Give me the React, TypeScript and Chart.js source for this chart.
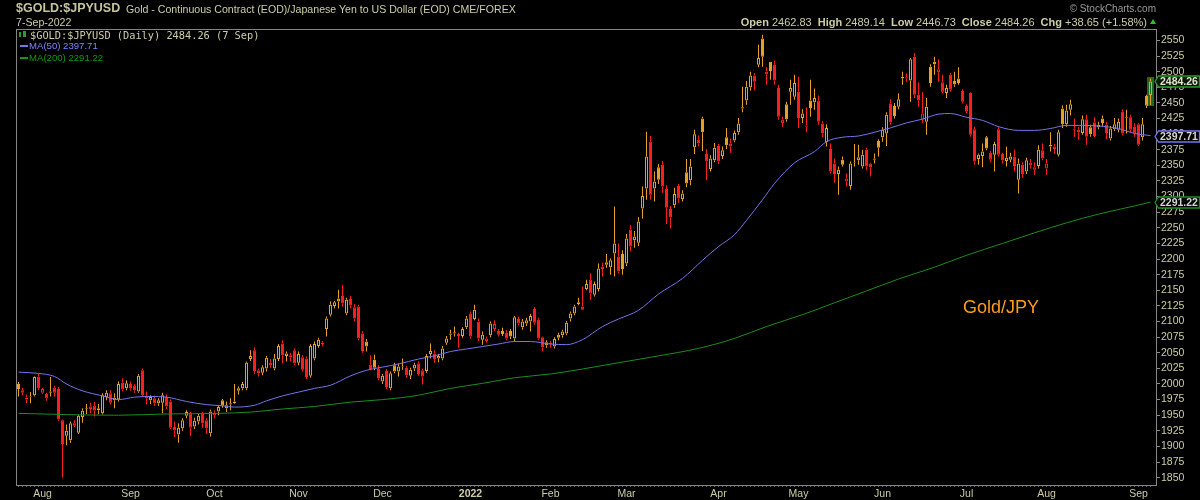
import React, { useEffect, useRef } from "react";
import { Chart, registerables } from "chart.js";

Chart.register(...registerables);

// ---------- DATA ----------
const OPEN: number[] = [
  2000, 1990, 1975, 1979, 1982, 2012, 1986, 1984, 1986, 1994,
  1992, 1942, 1917, 1910, 1937, 1922, 1947, 1960, 1964, 1965,
  1961, 1953, 1979, 1985, 1974, 1975, 2002, 1993, 2000, 1997,
  1988, 2022, 1981, 1974, 1977, 1969, 1970, 1979, 1972, 1931,
  1919, 1929, 1949, 1953, 1932, 1940, 1953, 1942, 1921, 1954,
  1956, 1974, 1961, 1969, 1969, 1989, 1993, 1993, 2040, 2054,
  2022, 2018, 2025, 2034, 2025, 2040, 2065, 2045, 2043, 2054,
  2034, 2043, 2041, 2013, 2041, 2061, 2066, 2088, 2111, 2125,
  2137, 2141, 2113, 2136, 2123, 2124, 2081, 2068, 2031, 2039,
  2024, 2004, 2021, 1993, 2030, 2020, 2028, 2026, 2013, 2025,
  2033, 2022, 2021, 2048, 2049, 2041, 2041, 2066, 2079, 2081,
  2080, 2077, 2091, 2113, 2104, 2100, 2071, 2069, 2078, 2088,
  2085, 2085, 2082, 2085, 2073, 2104, 2091, 2097, 2100, 2120,
  2103, 2075, 2062, 2064, 2060, 2079, 2078, 2081, 2105, 2113,
  2128, 2124, 2152, 2167, 2143, 2152, 2188, 2191, 2187, 2209,
  2204, 2208, 2193, 2247, 2230, 2226, 2281, 2313, 2388, 2313,
  2347, 2351, 2312, 2280, 2286, 2317, 2296, 2339, 2326, 2379,
  2391, 2425, 2368, 2344, 2358, 2381, 2365, 2395, 2385, 2390,
  2403, 2443, 2454, 2475, 2494, 2511, 2553, 2496, 2516, 2511,
  2474, 2418, 2448, 2468, 2460, 2468, 2426, 2412, 2454, 2451,
  2454, 2417, 2387, 2376, 2353, 2336, 2359, 2324, 2317, 2355,
  2358, 2348, 2375, 2353, 2359, 2389, 2395, 2401, 2449, 2445,
  2444, 2489, 2489, 2486, 2524, 2463, 2423, 2420, 2508, 2516,
  2499, 2483, 2466, 2495, 2485, 2489, 2469, 2445, 2466, 2408,
  2360, 2365, 2395, 2370, 2367, 2408, 2368, 2357, 2359, 2364,
  2327, 2351, 2340, 2350, 2343, 2349, 2374, 2345, 2383, 2380,
  2367, 2441, 2416, 2439, 2407, 2407, 2402, 2424, 2411, 2419,
  2411, 2425, 2415, 2393, 2408, 2407, 2436, 2427, 2427, 2412,
  2416, 2395, 2461, 2462.83,
];

const HIGH: number[] = [
  2003, 1994, 1983, 1987, 2012, 2016, 1994, 1986, 2011, 1997,
  1995, 1943, 1935, 1940, 1942, 1951, 1961, 1968, 1970, 1971,
  1968, 1985, 1990, 1990, 1985, 2004, 2009, 2006, 2004, 2000,
  2016, 2025, 1988, 1982, 1981, 1977, 1986, 1983, 1975, 1940,
  1937, 1945, 1958, 1955, 1946, 1952, 1955, 1945, 1959, 1958,
  1966, 1976, 1972, 1977, 2000, 1996, 2003, 2036, 2054, 2059,
  2025, 2030, 2045, 2040, 2048, 2064, 2070, 2052, 2050, 2057,
  2052, 2046, 2044, 2064, 2068, 2074, 2069, 2108, 2132, 2133,
  2151, 2159, 2138, 2141, 2128, 2127, 2085, 2072, 2046, 2047,
  2030, 2016, 2024, 2020, 2034, 2033, 2041, 2029, 2026, 2034,
  2036, 2025, 2048, 2065, 2054, 2048, 2061, 2077, 2087, 2092,
  2082, 2091, 2109, 2116, 2127, 2105, 2084, 2076, 2100, 2102,
  2088, 2090, 2086, 2088, 2109, 2108, 2104, 2106, 2112, 2123,
  2106, 2076, 2070, 2069, 2075, 2082, 2087, 2101, 2116, 2127,
  2138, 2156, 2167, 2177, 2164, 2193, 2194, 2208, 2201, 2284,
  2225, 2214, 2240, 2254, 2245, 2267, 2316, 2404, 2397, 2340,
  2352, 2357, 2318, 2285, 2314, 2320, 2310, 2360, 2360, 2407,
  2398, 2428, 2376, 2366, 2386, 2384, 2380, 2410, 2393, 2406,
  2426, 2476, 2485, 2500, 2498, 2543, 2559, 2507, 2516, 2518,
  2479, 2428, 2452, 2487, 2495, 2492, 2440, 2443, 2487, 2473,
  2462, 2421, 2416, 2385, 2361, 2348, 2364, 2337, 2356, 2384,
  2383, 2375, 2378, 2354, 2369, 2392, 2411, 2435, 2456, 2450,
  2465, 2500, 2497, 2522, 2530, 2483, 2468, 2458, 2512, 2524,
  2520, 2495, 2479, 2498, 2500, 2507, 2472, 2448, 2467, 2412,
  2369, 2385, 2397, 2373, 2388, 2411, 2370, 2380, 2370, 2375,
  2361, 2355, 2362, 2360, 2355, 2382, 2385, 2360, 2403, 2384,
  2407, 2446, 2447, 2455, 2425, 2412, 2430, 2431, 2415, 2427,
  2420, 2430, 2420, 2413, 2426, 2425, 2440, 2439, 2431, 2418,
  2418, 2426, 2463, 2489.14,
];

const LOW: number[] = [
  1980, 1982, 1969, 1969, 1980, 1990, 1984, 1973, 1980, 1980,
  1941, 1850, 1902, 1906, 1931, 1920, 1938, 1952, 1953, 1948,
  1952, 1951, 1974, 1967, 1961, 1972, 1988, 1990, 1989, 1986,
  1986, 1979, 1967, 1968, 1965, 1965, 1953, 1960, 1928, 1915,
  1906, 1925, 1945, 1917, 1928, 1935, 1930, 1920, 1916, 1945,
  1950, 1962, 1955, 1958, 1968, 1983, 1990, 1990, 2037, 2016,
  2012, 2014, 2020, 2026, 2022, 2037, 2033, 2036, 2036, 2030,
  2030, 2020, 2008, 2010, 2038, 2058, 2060, 2076, 2108, 2121,
  2121, 2124, 2110, 2121, 2100, 2070, 2050, 2052, 2022, 2022,
  2006, 2000, 1992, 1990, 2017, 2012, 2023, 2010, 2008, 2021,
  2013, 1999, 2018, 2041, 2034, 2035, 2038, 2063, 2071, 2076,
  2058, 2074, 2088, 2073, 2102, 2069, 2063, 2066, 2075, 2085,
  2076, 2077, 2070, 2072, 2068, 2094, 2087, 2093, 2084, 2095,
  2070, 2052, 2058, 2058, 2057, 2070, 2074, 2078, 2100, 2110,
  2126, 2118, 2150, 2135, 2140, 2148, 2172, 2186, 2175, 2172,
  2177, 2175, 2189, 2212, 2218, 2221, 2265, 2295, 2295, 2292,
  2320, 2306, 2256, 2249, 2282, 2290, 2292, 2315, 2318, 2368,
  2380, 2373, 2326, 2340, 2355, 2352, 2360, 2376, 2370, 2387,
  2399, 2435, 2447, 2470, 2470, 2507, 2508, 2479, 2487, 2479,
  2423, 2412, 2420, 2447, 2455, 2410, 2418, 2403, 2428, 2439,
  2415, 2395, 2380, 2337, 2322, 2303, 2348, 2316, 2311, 2348,
  2351, 2345, 2342, 2332, 2353, 2364, 2388, 2381, 2415, 2425,
  2440, 2479, 2484, 2452, 2458, 2444, 2418, 2399, 2476, 2495,
  2484, 2466, 2458, 2468, 2476, 2479, 2449, 2433, 2396, 2351,
  2351, 2347, 2374, 2355, 2340, 2364, 2353, 2348, 2355, 2340,
  2305, 2330, 2336, 2345, 2335, 2345, 2358, 2335, 2372, 2368,
  2364, 2410, 2412, 2430, 2396, 2391, 2399, 2383, 2396, 2395,
  2408, 2412, 2392, 2390, 2405, 2403, 2398, 2401, 2403, 2396,
  2381, 2390, 2442, 2446.73,
];

const CLOSE: number[] = [
  1992, 1986, 1978, 1980, 2011, 1993, 1992, 1977, 1988, 1986,
  1943, 1904, 1925, 1937, 1933, 1949, 1957, 1961, 1960, 1957,
  1958, 1982, 1986, 1970, 1978, 2000, 1991, 2001, 1993, 1990,
  2013, 1982, 1977, 1979, 1969, 1974, 1982, 1964, 1930, 1926,
  1930, 1942, 1955, 1930, 1941, 1949, 1937, 1929, 1956, 1950,
  1963, 1965, 1966, 1967, 1972, 1993, 2000, 2034, 2045, 2021,
  2017, 2027, 2042, 2030, 2041, 2061, 2046, 2049, 2046, 2033,
  2048, 2023, 2011, 2061, 2064, 2071, 2064, 2105, 2127, 2131,
  2132, 2129, 2135, 2126, 2105, 2073, 2053, 2060, 2024, 2026,
  2009, 2013, 1995, 2017, 2020, 2028, 2029, 2014, 2023, 2031,
  2016, 2012, 2045, 2053, 2040, 2045, 2057, 2073, 2081, 2083,
  2077, 2088, 2105, 2076, 2119, 2073, 2079, 2073, 2097, 2096,
  2079, 2080, 2073, 2076, 2107, 2097, 2100, 2102, 2109, 2098,
  2073, 2059, 2067, 2066, 2072, 2074, 2084, 2098, 2113, 2124,
  2131, 2119, 2160, 2145, 2160, 2185, 2184, 2195, 2198, 2225,
  2180, 2184, 2233, 2220, 2236, 2260, 2301, 2364, 2303, 2324,
  2327, 2316, 2282, 2267, 2304, 2297, 2305, 2321, 2348, 2400,
  2385, 2403, 2356, 2361, 2378, 2356, 2374, 2382, 2380, 2402,
  2417, 2441, 2476, 2494, 2484, 2522, 2524, 2500, 2501, 2486,
  2428, 2423, 2424, 2474, 2482, 2426, 2433, 2414, 2442, 2458,
  2420, 2401, 2410, 2340, 2336, 2343, 2351, 2329, 2353, 2354,
  2363, 2367, 2348, 2347, 2361, 2378, 2407, 2431, 2419, 2429,
  2456, 2492, 2491, 2520, 2463, 2454, 2433, 2444, 2482, 2512,
  2504, 2468, 2474, 2471, 2480, 2482, 2452, 2436, 2399, 2356,
  2367, 2372, 2377, 2359, 2384, 2367, 2358, 2362, 2364, 2349,
  2353, 2336, 2358, 2354, 2347, 2375, 2361, 2353, 2380, 2376,
  2403, 2416, 2438, 2448, 2409, 2403, 2424, 2396, 2400, 2397,
  2415, 2418, 2402, 2409, 2416, 2420, 2401, 2426, 2407, 2401,
  2383, 2416, 2445.61, 2484.26,
];

const MONTH_LABELS = ["Aug", "Sep", "Oct", "Nov", "Dec", "2022", "Feb", "Mar", "Apr", "May", "Jun", "Jul", "Aug", "Sep"];
const MONTH_START = [6, 28, 49, 70, 91, 113, 133, 152, 175, 195, 216, 237, 257, 280];

const MA50_IDX = [0, 5, 9, 12, 16, 21, 25, 29, 33, 37, 42, 47, 51, 54, 59, 62, 66, 70, 74, 78, 83, 87, 91, 95, 100, 104, 108, 112, 116, 120, 124, 128, 133, 137, 141, 146, 150, 155, 160, 166, 171, 175, 179, 182, 186, 189, 194, 199, 202, 206, 210, 214, 218, 222, 226, 230, 233, 237, 241, 245, 250, 254, 258, 262, 266, 270, 275, 279, 283];
const MA50_VAL = [2019, 2017, 2012, 2000, 1989, 1981, 1975, 1979, 1980, 1979, 1972, 1967, 1965, 1963, 1966, 1973, 1981, 1987, 1993, 1998, 2013, 2022, 2027, 2032, 2040, 2045, 2052, 2056, 2060, 2064, 2068, 2068, 2064, 2063, 2071, 2092, 2104, 2118, 2144, 2169, 2198, 2220, 2239, 2262, 2295, 2321, 2354, 2372, 2388, 2395, 2397, 2403, 2410, 2418, 2424, 2432, 2433, 2427, 2422, 2412, 2406, 2406, 2409, 2414, 2414, 2413, 2409, 2401, 2397.71];

const MA200_IDX = [0, 12, 25, 37, 50, 58, 66, 74, 83, 91, 100, 108, 116, 124, 133, 141, 150, 160, 170, 179, 187, 196, 204, 212, 220, 229, 237, 246, 254, 262, 270, 279, 283];
const MA200_VAL = [1953, 1951, 1950, 1952, 1953, 1955, 1960, 1964, 1971, 1975, 1982, 1993, 2001, 2010, 2016, 2024, 2034, 2045, 2057, 2073, 2092, 2111, 2130, 2149, 2168, 2187, 2206, 2225, 2242, 2258, 2272, 2285, 2291.22];

const Y_TICKS = [1850, 1875, 1900, 1925, 1950, 1975, 2000, 2025, 2050, 2075, 2100, 2125, 2150, 2175, 2200, 2225, 2250, 2275, 2300, 2325, 2350, 2375, 2400, 2425, 2450, 2475, 2500, 2525, 2550];

// ---------- STYLE ----------
const ORANGE = "#e6a028";
const RED = "#fb1e1e";
const KHAKI = "#cdcda6";
const BLUE = "#7474f0";
const GREEN = "#1c8e1c";
const LIB = '"Liberation Sans", Arial, sans-serif';
const MONO = '"DejaVu Sans Mono", "Liberation Mono", monospace';

type TxtProps = {
  left?: number;
  right?: number;
  base: number;
  size: number;
  color?: string;
  weight?: string | number;
  family?: string;
  spacing?: number;
  children?: React.ReactNode;
};

function Txt({ left, right, base, size, color = KHAKI, weight = "normal", family = LIB, spacing, children }: TxtProps) {
  const style: React.CSSProperties = {
    position: "absolute",
    top: base - 0.8465 * size,
    fontSize: size,
    lineHeight: `${size}px`,
    color,
    fontWeight: weight as any,
    fontFamily: family,
    whiteSpace: "nowrap",
    letterSpacing: spacing,
  };
  if (left !== undefined) style.left = left;
  else if (right !== undefined) style.right = 1200 - right;
  return <div style={style}>{children}</div>;
}

export default function App() {
  const ref = useRef<HTMLCanvasElement>(null);

  useEffect(() => {
    const canvas = ref.current;
    if (!canvas) return;
    const n = CLOSE.length;
    const idx = CLOSE.map((_, i) => i);
    const col = idx.map((i) => (i === 0 || CLOSE[i] >= CLOSE[i - 1] ? ORANGE : RED));
    const fill = idx.map((i) => (CLOSE[i] < OPEN[i] ? col[i] : "rgba(0,0,0,0)"));
    const bodies = idx.map((i) => ({ x: i, y: [OPEN[i], CLOSE[i]] }));
    const upper = idx.map((i) => ({ x: i, y: [Math.max(OPEN[i], CLOSE[i]), HIGH[i]] }));
    const lower = idx.map((i) => ({ x: i, y: [LOW[i], Math.min(OPEN[i], CLOSE[i])] }));
    const ma50 = MA50_IDX.map((x, k) => ({ x, y: MA50_VAL[k] }));
    const ma200 = MA200_IDX.map((x, k) => ({ x, y: MA200_VAL[k] }));

    const overlay = {
      id: "overlay",
      beforeDatasetsDraw(chart: any) {
        const { ctx, scales } = chart;
        const i = n - 1;
        const cx = scales.x.getPixelForValue(i);
        const yt = scales.y.getPixelForValue(HIGH[i]);
        const yb = scales.y.getPixelForValue(LOW[i]);
        ctx.save();
        ctx.fillStyle = "#1f6a1f";
        ctx.fillRect(Math.round(cx - 3.5), Math.floor(yt) - 1, 7, Math.ceil(yb - yt) + 2);
        ctx.restore();
      },
      afterDraw(chart: any) {
        const { ctx, chartArea: a, scales } = chart;
        ctx.save();
        ctx.strokeStyle = "#858585";
        ctx.lineWidth = 1;
        ctx.strokeRect(a.left + 0.5, a.top + 0.5, a.right - a.left, a.bottom - a.top);
        const boxes = [
          { v: MA200_VAL[MA200_VAL.length - 1], border: GREEN, bg: "#000", txt: "#d4d4d4" },
          { v: MA50_VAL[MA50_VAL.length - 1], border: BLUE, bg: "#000", txt: "#d4d4d4" },
          { v: CLOSE[n - 1], border: "#2a9a2a", bg: "#0d160d", txt: "#e2e2c8" },
        ];
        for (const b of boxes) {
          const yc = Math.round(scales.y.getPixelForValue(b.v)) + 0.5;
          const tip = a.right - 1;
          const x1 = a.right + 2.5;
          const x2 = 1199.5;
          ctx.beginPath();
          ctx.moveTo(tip, yc);
          ctx.lineTo(x1, yc - 5.5);
          ctx.lineTo(x2, yc - 5.5);
          ctx.lineTo(x2, yc + 5.5);
          ctx.lineTo(x1, yc + 5.5);
          ctx.closePath();
          ctx.fillStyle = b.bg;
          ctx.fill();
          ctx.strokeStyle = b.border;
          ctx.lineWidth = 1.3;
          ctx.stroke();
          ctx.fillStyle = b.txt;
          ctx.font = `bold 10.5px ${LIB}`;
          ctx.textAlign = "left";
          ctx.textBaseline = "middle";
          ctx.fillText(b.v.toFixed(2), a.right + 4, yc + 0.5);
        }
        ctx.restore();
      },
    };

    const chart = new Chart(canvas, {
      type: "bar",
      data: {
        datasets: [
          { type: "line", data: ma50, borderColor: BLUE, borderWidth: 1, pointRadius: 0, cubicInterpolationMode: "monotone", order: 0 } as any,
          { type: "line", data: ma200, borderColor: GREEN, borderWidth: 1, pointRadius: 0, cubicInterpolationMode: "monotone", order: 0 } as any,
          { type: "bar", data: bodies, backgroundColor: fill, borderColor: col, borderWidth: 1, borderSkipped: false, grouped: false, barThickness: 3, maxBarThickness: 3, inflateAmount: 0, order: 1 } as any,
          { type: "bar", data: upper, backgroundColor: col, borderWidth: 0, grouped: false, barThickness: 1, maxBarThickness: 1, inflateAmount: 0, order: 2 } as any,
          { type: "bar", data: lower, backgroundColor: col, borderWidth: 0, grouped: false, barThickness: 1, maxBarThickness: 1, inflateAmount: 0, order: 2 } as any,
        ],
      },
      options: {
        responsive: false,
        animation: false,
        events: [],
        layout: { padding: { left: 16, top: 29, right: 0, bottom: 0 } },
        plugins: { legend: { display: false }, tooltip: { enabled: false } },
        scales: {
          x: {
            type: "linear",
            min: -0.625,
            max: 284.375,
            offset: false,
            afterBuildTicks: (s: any) => {
              s.ticks = idx.map((v) => ({ value: v }));
            },
            afterFit: (s: any) => {
              s.height = 15;
            },
            grid: { display: true, drawOnChartArea: false, drawTicks: true, tickLength: 2, color: "#6a6a6a", offset: false },
            border: { display: false },
            ticks: {
              autoSkip: false,
              maxRotation: 0,
              minRotation: 0,
              padding: 1,
              color: KHAKI,
              font: (ctx: any) => {
                const k = ctx.tick ? MONTH_START.indexOf(ctx.tick.value) : -1;
                const bold = k >= 0 && MONTH_LABELS[k] === "2022";
                return { family: LIB, size: 10.5, weight: bold ? "bold" : "normal" };
              },
              callback: (v: any) => {
                const k = MONTH_START.indexOf(Number(v));
                return k >= 0 ? MONTH_LABELS[k] : "";
              },
            },
          } as any,
          y: {
            type: "linear",
            position: "right",
            min: 1838.3,
            max: 2568.3,
            afterBuildTicks: (s: any) => {
              s.ticks = Y_TICKS.map((v) => ({ value: v }));
            },
            afterFit: (s: any) => {
              s.width = 44;
            },
            grid: { display: true, drawOnChartArea: false, drawTicks: true, tickLength: 4, color: "#8a8a8a" },
            border: { display: false },
            ticks: {
              color: KHAKI,
              padding: 1,
              font: { family: LIB, size: 10.5 },
              callback: (v: any) => String(v),
            },
          } as any,
        },
      },
      plugins: [overlay],
    });
    return () => chart.destroy();
  }, []);

  return (
    <div style={{ position: "relative", width: 1200, height: 500, background: "#000", overflow: "hidden" }}>
      <style>{`html,body{margin:0;padding:0;background:#000;}`}</style>
      <canvas ref={ref} width={1200} height={500} style={{ position: "absolute", left: 0, top: 0, width: 1200, height: 500 }} />

      {/* header */}
      <Txt left={16} base={13} size={12.5} weight="bold" color="#c4c49c">$GOLD:$JPYUSD</Txt>
      <Txt left={126} base={12.7} size={10.6}>Gold - Continuous Contract (EOD)/Japanese Yen to US Dollar (EOD) CME/FOREX</Txt>
      <Txt left={16} base={26} size={10.6}>7-Sep-2022</Txt>
      <Txt right={1156} base={12.7} size={10} color="#9a9a9a">© StockCharts.com</Txt>
      <Txt right={1156} base={26} size={11}>
        <b>Open</b> 2462.83
        <span style={{ marginLeft: 6 }}><b>High</b> 2489.14</span>
        <span style={{ marginLeft: 6 }}><b>Low</b> 2446.73</span>
        <span style={{ marginLeft: 6 }}><b>Close</b> 2484.26</span>
        <span style={{ marginLeft: 6 }}><b>Chg</b> +38.65 (+1.58%)</span>
        <span
          style={{
            display: "inline-block",
            width: 0,
            height: 0,
            marginLeft: 3,
            borderLeft: "3px solid transparent",
            borderRight: "3px solid transparent",
            borderBottom: "5px solid #2fc02f",
            position: "relative",
            top: -1.5,
          }}
        />
      </Txt>

      {/* legend inside plot */}
      <div style={{ position: "absolute", left: 19, top: 32, width: 2, height: 5, border: "1px solid #2a9a2a", boxSizing: "border-box" }} />
      <div style={{ position: "absolute", left: 23, top: 31, width: 3, height: 6, background: "#2a9a2a" }} />
      <Txt left={30} base={38.5} size={10.3} family={MONO}>$GOLD:$JPYUSD (Daily) 2484.26 (7 Sep)</Txt>
      <div style={{ position: "absolute", left: 20, top: 45, width: 8, height: 2, background: BLUE }} />
      <Txt left={29} base={49} size={9.6} color="#8282ff">MA(50) 2397.71</Txt>
      <div style={{ position: "absolute", left: 20, top: 56.5, width: 8, height: 2, background: "#119911" }} />
      <Txt left={29} base={60.7} size={9.6} color="#119911">MA(200) 2291.22</Txt>

      {/* annotation */}
      <Txt left={963} base={313} size={18} color="#ff9c1c">Gold/JPY</Txt>
    </div>
  );
}
